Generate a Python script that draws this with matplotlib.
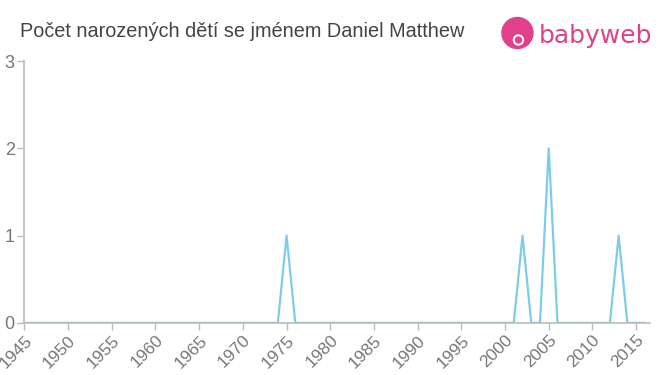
import numpy as np
import matplotlib
matplotlib.use('Agg')
import matplotlib.pyplot as plt
from matplotlib.patches import Circle

font = {'family': ['Liberation Sans', 'DejaVu Sans'], 'size': 10}
matplotlib.rc('font', **font)

years = list(range(1945, 2017))
peaks = {1975: 1, 2002: 1, 2005: 2, 2013: 1}
counts = [peaks.get(y, 0) for y in years]
xticks = list(range(1945, 2016, 5))
yticks = [0, 1, 2, 3]
title = "Počet narozených dětí se jménem Daniel Matthew"

fig = plt.figure(figsize=(6.6, 3.75), dpi=100)
ax = fig.add_axes([0.037, 0.139, 0.948, 0.698])
ax.plot(years, counts, color='#7dcdea', lw=1.6)
ax.set_xlim(1945, 2016.6)
ax.set_ylim(0, 3)
ax.set_xticks(xticks)
ax.set_xticklabels([str(x) for x in xticks], rotation=45, ha='right',
                   rotation_mode='anchor')
ax.set_yticks(yticks)
for s in ['top', 'right']:
    ax.spines[s].set_visible(False)
for s in ['left', 'bottom']:
    ax.spines[s].set_color('#bbbbbb')
    ax.spines[s].set_linewidth(1.2)
ax.tick_params(axis='x', colors='#bbbbbb', labelcolor='#777777', labelsize=12.5,
               length=5, width=1, pad=2)
ax.tick_params(axis='y', colors='#bbbbbb', labelcolor='#777777', labelsize=13,
               length=5, width=1, pad=2)

fig.text(0.03, 0.915, title, fontsize=14.3, color='#444444', va='center')

# logo
pink = '#e0418a'
lx, ly = 0.784, 0.912
fig.patches.append(Circle((lx * 660, ly * 375), 15.5, transform=None,
                          color=pink))
fig.patches.append(Circle((lx * 660 + 1, ly * 375 - 7), 5, transform=None,
                          color='white'))
fig.patches.append(Circle((lx * 660 + 1, ly * 375 - 7), 3, transform=None,
                          color=pink))
fig.text(0.817, 0.905, "babyweb", fontsize=18, color=pink, va='center',
         family='DejaVu Sans')

fig.savefig('out.png')
